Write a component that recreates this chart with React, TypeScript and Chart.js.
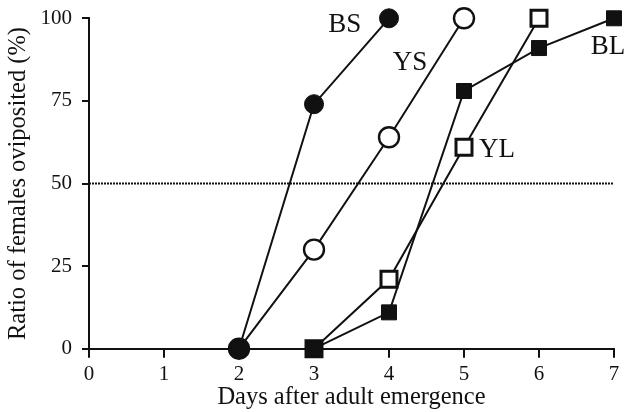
import { useEffect, useRef } from "react";
import { Chart, registerables } from "chart.js";

Chart.register(...registerables);

// ---- data ----
const seriesNames = ["BS", "YS", "BL", "YL"];
const bsDays = [2, 3, 4];
const bsValues = [0, 74, 100];
const ysDays = [2, 3, 4, 5];
const ysValues = [0, 30, 64, 100];
const blDays = [3, 4, 5, 6, 7];
const blValues = [0, 11, 78, 91, 100];
const ylDays = [3, 4, 5, 6];
const ylValues = [0, 21, 61, 100];
const xTickValues = [0, 1, 2, 3, 4, 5, 6, 7];
const yTickValues = [0, 25, 50, 75, 100];
const referenceLevel = 50;
// label anchors in data units (day, %)
const labelDays = [3.41, 4.28, 6.92, 5.44];
const labelValues = [97.9, 86.5, 91.3, 60.2];

const xTitle = "Days after adult emergence";
const yTitle = "Ratio of females oviposited (%)";

const INK = "#111";
const FONT = "'Liberation Serif', 'Times New Roman', serif";

const toPoints = (xs: number[], ys: number[]) => xs.map((x, i) => ({ x, y: ys[i] }));

const labelPlugin = {
  id: "seriesLabels",
  afterDatasetsDraw(chart: any) {
    const { ctx, scales } = chart;
    ctx.save();
    ctx.fillStyle = INK;
    ctx.font = `27px ${FONT}`;
    ctx.textAlign = "center";
    ctx.textBaseline = "middle";
    seriesNames.forEach((name, i) => {
      ctx.fillText(name, scales.x.getPixelForValue(labelDays[i]), scales.y.getPixelForValue(labelValues[i]));
    });
    ctx.restore();
  },
};

export default function App() {
  const ref = useRef<HTMLCanvasElement | null>(null);

  useEffect(() => {
    if (!ref.current) return;
    const lineBase = {
      borderColor: INK,
      borderWidth: 2,
      showLine: true,
      clip: false as any,
      tension: 0,
    };
    const chart = new Chart(ref.current, {
      type: "scatter",
      data: {
        datasets: [
          {
            ...lineBase,
            label: "BS",
            data: toPoints(bsDays, bsValues),
            pointStyle: "circle",
            pointRadius: 9.5,
            pointBackgroundColor: INK,
            pointBorderColor: INK,
            pointBorderWidth: 1,
          },
          {
            ...lineBase,
            label: "YS",
            data: toPoints(ysDays, ysValues),
            pointStyle: "circle",
            pointRadius: 10,
            pointBackgroundColor: "#fff",
            pointBorderColor: INK,
            pointBorderWidth: 2.4,
          },
          {
            ...lineBase,
            label: "BL",
            data: toPoints(blDays, blValues),
            pointStyle: "rect",
            pointRadius: 10.6,
            pointBackgroundColor: INK,
            pointBorderColor: INK,
            pointBorderWidth: 1,
          },
          {
            ...lineBase,
            label: "YL",
            data: toPoints(ylDays, ylValues),
            pointStyle: "rect",
            pointRadius: 11.3,
            pointBackgroundColor: "#fff",
            pointBorderColor: INK,
            pointBorderWidth: 3,
          },
          {
            label: "50%",
            data: [
              { x: xTickValues[0], y: referenceLevel },
              { x: xTickValues[xTickValues.length - 1], y: referenceLevel },
            ],
            showLine: true,
            borderColor: INK,
            borderWidth: 2,
            borderDash: [2, 1],
            pointRadius: 0,
            clip: false as any,
          },
        ],
      },
      options: {
        animation: false,
        responsive: false,
        events: [],
        layout: { autoPadding: false, padding: { top: 18.3, right: 14, left: 0, bottom: 0 } },
        plugins: { legend: { display: false }, tooltip: { enabled: false } },
        scales: {
          x: {
            type: "linear",
            min: xTickValues[0],
            max: xTickValues[xTickValues.length - 1],
            afterBuildTicks: (s: any) => {
              s.ticks = xTickValues.map((v) => ({ value: v }));
            },
            afterFit: (s: any) => {
              s.height = 63.3;
              s.paddingLeft = 0;
              s.paddingRight = 0;
            },
            ticks: { color: INK, font: { family: FONT, size: 21 }, padding: 4 },
            grid: { drawOnChartArea: false, drawTicks: true, tickLength: 9, color: INK, lineWidth: 2 },
            border: { display: true, color: INK, width: 2 },
            title: {
              display: true,
              text: xTitle,
              color: INK,
              font: { family: FONT, size: 24.5 },
              padding: { top: 0, bottom: 0 },
            },
          },
          y: {
            type: "linear",
            min: yTickValues[0],
            max: yTickValues[yTickValues.length - 1],
            afterBuildTicks: (s: any) => {
              s.ticks = yTickValues.map((v) => ({ value: v }));
            },
            afterFit: (s: any) => {
              s.width = 89;
              s.paddingTop = 0;
              s.paddingBottom = 0;
            },
            ticks: { color: INK, font: { family: FONT, size: 21 }, padding: 10 },
            grid: { drawOnChartArea: false, drawTicks: true, tickLength: 7, color: INK, lineWidth: 2 },
            border: { display: true, color: INK, width: 2 },
            title: {
              display: true,
              text: yTitle,
              color: INK,
              font: { family: FONT, size: 24.5 },
              padding: { top: 4, bottom: 0 },
            },
          },
        },
      } as any,
      plugins: [labelPlugin],
    });
    return () => chart.destroy();
  }, []);

  return (
    <div style={{ position: "fixed", left: 0, top: 0, width: 628, height: 412, background: "#fff" }}>
      <canvas ref={ref} width={628} height={412} style={{ display: "block" }} />
    </div>
  );
}
